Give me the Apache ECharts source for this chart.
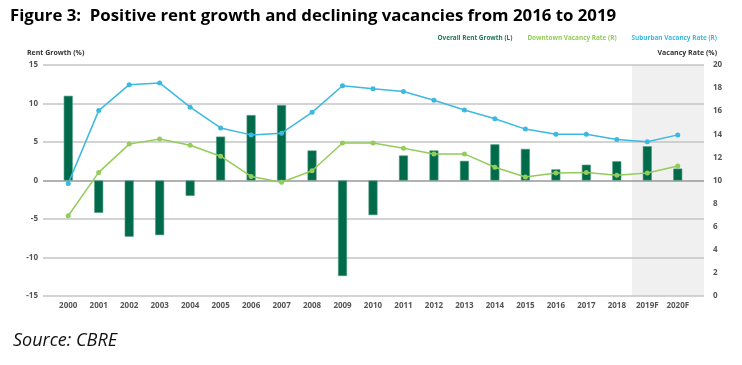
<!DOCTYPE html>
<html><head><meta charset="utf-8">
<script src="https://cdn.jsdelivr.net/npm/echarts@6/dist/echarts.min.js"></script>
<style>html,body{margin:0;padding:0;background:#fff}#c{width:742px;height:365px}</style>
</head><body><div id="c"></div>
<script>
const categories = ['2000','2001','2002','2003','2004','2005','2006','2007','2008','2009','2010','2011','2012','2013','2014','2015','2016','2017','2018','2019F','2020F'];
const rentGrowth = [11.0,-4.2,-7.3,-7.1,-2.0,5.7,8.5,9.8,3.9,-12.4,-4.5,3.25,3.9,2.55,4.7,4.1,1.45,2.05,2.5,4.45,1.55];
const downtownVacancy = [6.95,10.7,13.15,13.6,13.05,12.1,10.35,9.85,10.85,13.25,13.25,12.8,12.3,12.3,11.15,10.3,10.65,10.7,10.45,10.65,11.25];
const suburbanVacancy = [9.75,16.05,18.3,18.45,16.35,14.55,13.95,14.1,15.9,18.2,17.95,17.7,16.95,16.1,15.35,14.45,14.0,14.0,13.55,13.35,13.95];
const leftTicks = [-15,15,5];
const rightTicks = [0,20,2];
const forecastStart = '2019F';

const chart = echarts.init(document.getElementById('c'), null, {renderer:'canvas'});
const gridCol = '#c4c4c4';
const labelStyle = {color:'#555', fontSize:8, fontFamily:'Open Sans', fontWeight:'bold'};
const wideGrid = {left:43, right:38, top:65, bottom:69};
chart.setOption({
  animation:false,
  title:[
    {text:'Figure 3:  Positive rent growth and declining vacancies from 2016 to 2019', left:5, top:3,
     textStyle:{fontFamily:'Open Sans', fontWeight:'bold', fontSize:16.8, color:'#000'}},
    {text:'Source: CBRE', left:8, top:327, textStyle:{fontFamily:'Open Sans', fontStyle:'italic', fontWeight:'normal', fontSize:18, color:'#111'}}
  ],
  legend:{right:20, top:30, icon:'none', itemWidth:0, itemHeight:0, itemGap:10,
    textStyle:{fontSize:6.4, fontFamily:'Open Sans', fontWeight:'bold'},
    data:[
      {name:'Overall Rent Growth (L)', textStyle:{color:'#1a7a58'}},
      {name:'Downtown Vacancy Rate (R)', textStyle:{color:'#93cc5a'}},
      {name:'Suburban Vacancy Rate (R)', textStyle:{color:'#3bb9e0'}}
    ]},
  grid:[
    {left:53, right:49, top:65, bottom:69},
    wideGrid
  ],
  xAxis:[
    {type:'category', gridIndex:0, data:categories, axisLine:{show:false}, axisTick:{show:false},
     axisLabel:Object.assign({margin:6, interval:0}, labelStyle)},
    {type:'category', gridIndex:1, data:['a'], show:false}
  ],
  yAxis:[
    {type:'value', gridIndex:0, min:leftTicks[0], max:leftTicks[1], interval:leftTicks[2], position:'left',
     name:'Rent Growth (%)', nameLocation:'end', nameGap:9, nameTextStyle:{color:'#333', fontSize:7, fontFamily:'Open Sans', fontWeight:'bold', align:'left', padding:[0,0,0,-26]},
     axisLine:{show:false}, axisTick:{show:false}, splitLine:{show:false},
     axisLabel:Object.assign({margin:15}, labelStyle)},
    {type:'value', gridIndex:0, min:rightTicks[0], max:rightTicks[1], interval:rightTicks[2], position:'right',
     name:'Vacancy Rate (%)', nameLocation:'end', nameGap:9, nameTextStyle:{color:'#333', fontSize:7, fontFamily:'Open Sans', fontWeight:'bold', align:'right', padding:[0,-24,0,0]},
     axisLine:{show:false}, axisTick:{show:false}, splitLine:{show:false},
     axisLabel:Object.assign({margin:20}, labelStyle)},
    {type:'value', gridIndex:1, min:leftTicks[0], max:leftTicks[1], interval:leftTicks[2],
     axisLine:{show:false}, axisTick:{show:false}, axisLabel:{show:false},
     splitLine:{show:true, lineStyle:{width:1.5, color:[gridCol,gridCol,gridCol,'#999',gridCol,gridCol,gridCol]}}}
  ],
  series:[
    {name:'Overall Rent Growth (L)', type:'bar', xAxisIndex:0, yAxisIndex:0, data:rentGrowth, barWidth:9,
     itemStyle:{color:'#006b4b', borderColor:'#4f9a7e', borderWidth:0.6}, z:3},
    {name:'Downtown Vacancy Rate (R)', type:'line', xAxisIndex:0, yAxisIndex:1, data:downtownVacancy,
     symbol:'circle', symbolSize:5, lineStyle:{width:1.5, color:'#93cc5a'}, itemStyle:{color:'#93cc5a'}, z:4},
    {name:'Suburban Vacancy Rate (R)', type:'line', xAxisIndex:0, yAxisIndex:1, data:suburbanVacancy,
     symbol:'circle', symbolSize:5, lineStyle:{width:1.5, color:'#3bb9e0'}, itemStyle:{color:'#3bb9e0'}, z:4}
  ]
});
// forecast shading: from start of forecast band to the right end of the gridlines
const xAx = chart.getModel().getComponent('xAxis', 0).axis;
const band = xAx.getBandWidth();
const cx = chart.convertToPixel({xAxisIndex:0}, forecastStart);
const topPx = chart.convertToPixel({yAxisIndex:2}, leftTicks[1]);
const botPx = chart.convertToPixel({yAxisIndex:2}, leftTicks[0]);
const rightPx = chart.getWidth() - wideGrid.right;
chart.setOption({graphic:[{type:'rect', z:-1, silent:true,
  shape:{x:cx - band/2, y:topPx, width:rightPx - (cx - band/2), height:botPx - topPx},
  style:{fill:'#f0f0f0'}}]});
</script></body></html>
